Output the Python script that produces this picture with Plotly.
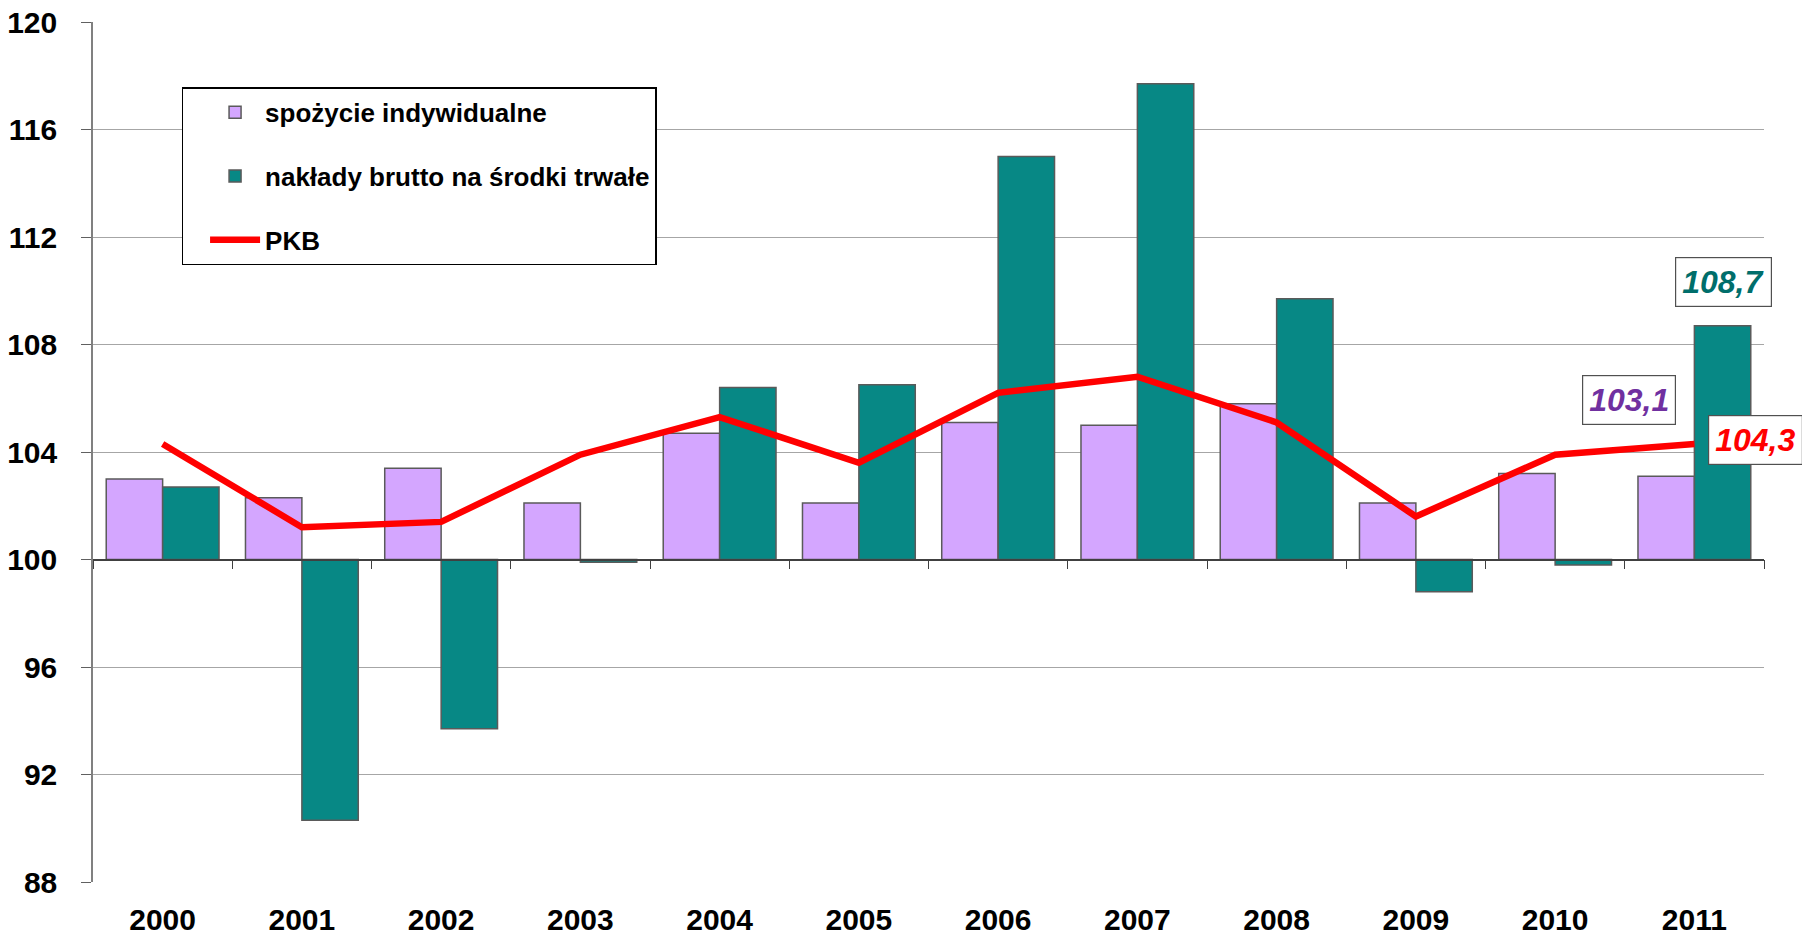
import plotly.graph_objects as go

years = ["2000", "2001", "2002", "2003", "2004", "2005", "2006", "2007", "2008", "2009", "2010", "2011"]
spozycie = [103.0, 102.3, 103.4, 102.1, 104.7, 102.1, 105.1, 105.0, 105.8, 102.1, 103.2, 103.1]
naklady = [102.7, 90.3, 93.7, 99.9, 106.4, 106.5, 115.0, 117.7, 109.7, 98.8, 99.8, 108.7]
pkb = [104.3, 101.2, 101.4, 103.9, 105.3, 103.6, 106.2, 106.8, 105.1, 101.6, 103.9, 104.3]
base_value = 100
y_range = [88, 120]
y_ticks = [88, 92, 96, 100, 104, 108, 112, 116, 120]

FONT = "Liberation Sans, Arial, sans-serif"
PURPLE = "#D4A6FF"
TEAL = "#078885"
GRID = "#A6A6A6"
OUTLINE = "#5A5A5A"

fig = go.Figure()
fig.add_trace(go.Bar(
    x=years, y=[v - base_value for v in spozycie], base=base_value,
    name="spożycie indywidualne", legendgroup="a",
    marker=dict(color=PURPLE, line=dict(color=OUTLINE, width=1.5)),
))
fig.add_trace(go.Bar(
    x=years, y=[v - base_value for v in naklady], base=base_value,
    name="nakłady brutto na środki trwałe", legendgroup="b",
    marker=dict(color=TEAL, line=dict(color=OUTLINE, width=1.5)),
))
fig.add_trace(go.Scatter(
    x=years, y=pkb, name="PKB", mode="lines", legendgroup="c",
    line=dict(color="#FF0000", width=6.5),
))
# helper trace so the label axis is rendered
idx = list(range(len(years)))
fig.add_trace(go.Scatter(
    x=idx, y=[base_value] * len(years), xaxis="x2",
    mode="markers", marker=dict(opacity=0), showlegend=False, hoverinfo="skip",
))

pos100 = (base_value - y_range[0]) / (y_range[1] - y_range[0])

fig.update_layout(
    width=1802, height=929,
    margin=dict(l=85, r=46, t=14, b=55),
    paper_bgcolor="white", plot_bgcolor="white",
    barmode="group", bargap=0.19, bargroupgap=0,
    font=dict(family=FONT, color="black"),
    showlegend=True,
    legend=dict(
        x=0.053, y=0.924, xanchor="left", yanchor="top",
        bgcolor="white", bordercolor="black", borderwidth=1.5,
        font=dict(family=FONT, size=26, color="black", weight="bold"),
        traceorder="grouped", tracegroupgap=27, itemwidth=50, indentation=22,
    ),
    xaxis=dict(
        type="category", range=[-0.5, len(years) - 0.5],
        anchor="free", position=pos100, automargin=False,
        showline=True, linecolor="#404040", linewidth=1.5,
        ticks="outside", tickson="boundaries", ticklen=9, tickcolor="#404040", tickwidth=1,
        showticklabels=False, showgrid=False, zeroline=False,
    ),
    xaxis2=dict(
        overlaying="x", anchor="y", side="bottom",
        range=[-0.5, len(years) - 0.5],
        tickmode="array", tickvals=idx, ticktext=years,
        showline=False, showgrid=False, zeroline=False, ticks="",
        tickfont=dict(family=FONT, size=30, color="black", weight="bold"),
        ticklabelstandoff=17, automargin=False, ticklabeloverflow="allow",
    ),
    yaxis=dict(
        range=y_range, tickvals=y_ticks,
        showgrid=True, gridcolor=GRID, gridwidth=1.2,
        showline=True, linecolor="#808080", linewidth=1.5,
        ticks="outside", ticklen=10, tickcolor="#606060",
        zeroline=False,
        tickfont=dict(family=FONT, size=30, color="black", weight="bold"),
        ticklabelstandoff=18, automargin=False, ticklabeloverflow="allow",
    ),
)

ann_style = dict(
    showarrow=False, bgcolor="white", bordercolor="#505050", borderwidth=1.2, borderpad=6,
    xref="x2", yref="y",
)
last = len(years) - 1
fig.add_annotation(
    x=last, y=naklady[-1], text=f"<i><b>{str(naklady[-1]).replace('.', ',')}</b></i>",
    xshift=29, yshift=44, font=dict(family=FONT, size=32, color="#006E6B"), **ann_style,
)
fig.add_annotation(
    x=last, y=spozycie[-1], text=f"<i><b>{str(spozycie[-1]).replace('.', ',')}</b></i>",
    xshift=-65, yshift=76, font=dict(family=FONT, size=32, color="#7030A0"), **ann_style,
)
fig.add_annotation(
    x=last, y=pkb[-1], text=f"<i><b>{str(pkb[-1]).replace('.', ',')}</b></i>",
    xshift=61, yshift=4, font=dict(family=FONT, size=32, color="#FF0000"), **ann_style,
)

fig.write_html("out.html")
